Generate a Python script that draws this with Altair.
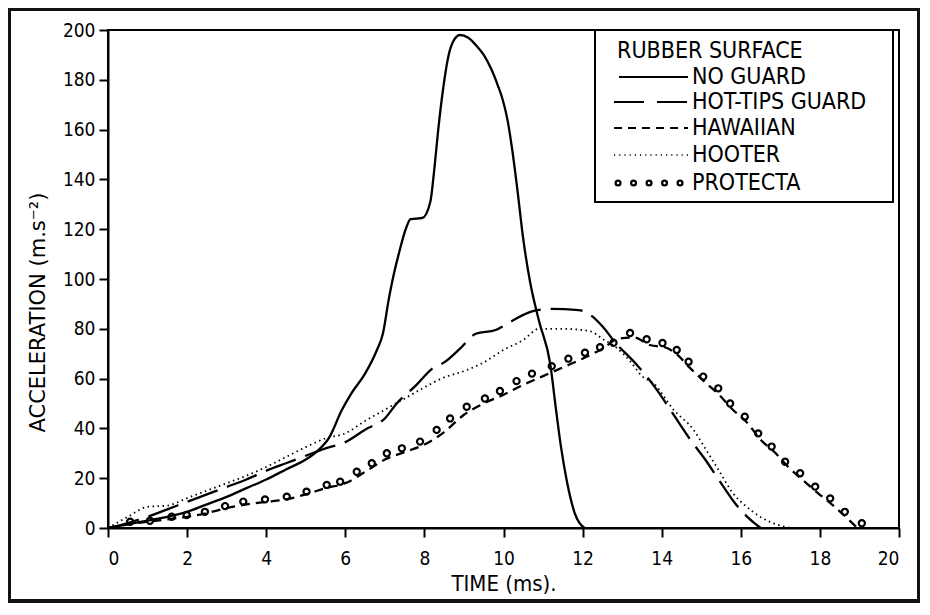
import altair as alt
import pandas as pd

FONT = "Liberation Sans Narrow, DejaVu Sans Condensed, Roboto, sans-serif"
WIDE_FONT = "DejaVu Sans, Liberation Sans, sans-serif"

# ---------------- data ----------------
series_names = ["NO GUARD", "HOT-TIPS GUARD", "HAWAIIAN", "HOOTER", "PROTECTA"]
legend_title = "RUBBER SURFACE"
x_ticks = [0, 2, 4, 6, 8, 10, 12, 14, 16, 18, 20]
y_ticks = [0, 20, 40, 60, 80, 100, 120, 140, 160, 180, 200]

no_guard_t = [0, 0.5, 1, 1.5, 2, 2.5, 3, 3.5, 4, 4.5, 5, 5.3, 5.6, 5.9, 6.15, 6.5, 6.8,
              6.95, 7.1, 7.2, 7.35, 7.55, 7.65, 7.95, 8.15, 8.25, 8.35, 8.47, 8.6, 8.75,
              8.9, 9.1, 9.3, 9.5, 9.7, 9.85, 9.98, 10.1, 10.22, 10.35, 10.5, 10.67, 10.9,
              11.18, 11.34, 11.45, 11.6, 11.8, 12.05]
no_guard_a = [0, 1.5, 3, 4.5, 6.5, 9.5, 12.5, 16, 19.5, 23.5, 27.5, 31, 36.5, 47, 54, 62,
              71.5, 78, 92, 100, 110, 121, 124, 124.5, 131, 144, 160, 176, 189, 196, 198,
              197, 194, 190, 184, 178, 172, 164, 152, 136, 116, 99, 83, 66, 46, 33, 19, 6, 0]

hot_tips_t = [0, 0.5, 1, 1.5, 2, 2.5, 3, 3.5, 4, 4.5, 5, 5.5, 6, 6.5, 7, 7.3, 7.8, 8.2,
              8.5, 8.9, 9.3, 9.8, 10.2, 10.7, 11.2, 11.9, 12.2, 12.5, 12.8, 13.4, 13.9,
              14.3, 14.7, 15.1, 15.5, 15.9, 16.2, 16.5]
hot_tips_a = [0, 2, 4.5, 7.5, 10.5, 13.5, 16.5, 19.5, 23, 26, 29, 32, 34.5, 39.5, 44, 50,
              57.5, 64, 66.5, 72, 78, 79.5, 83, 86.9, 88, 87.5, 85.5, 81, 75, 65, 55, 45.5,
              36, 27.5, 18, 9, 4, 0]

hawaiian_t = [0, 0.5, 1, 1.5, 2, 2.5, 3, 3.5, 4, 4.5, 5, 5.5, 6, 6.5, 7, 7.5, 8, 8.5, 9,
              9.5, 10, 10.5, 11, 11.5, 12, 12.5, 12.9, 13.3, 13.7, 14.1, 14.4, 14.7, 15.1,
              15.45, 15.8, 16.15, 16.5, 16.85, 17.2, 17.55, 17.95, 18.3, 18.65, 18.95]
hawaiian_a = [0, 1.5, 2.5, 3.5, 4.5, 6, 8, 9.5, 10.5, 11.5, 13.5, 16, 18, 22.5, 27.5, 30.5,
              33.5, 38.5, 45.5, 50, 53.5, 57.5, 61, 64.5, 68, 72, 76, 76.5, 73.5, 72.5, 69.5,
              64.5, 58.5, 53.5, 47.5, 42.5, 35.5, 30.5, 24.5, 19.5, 14, 9.5, 4.5, 0]

hooter_t = [0, 0.5, 1, 1.5, 2, 2.5, 3, 3.5, 4, 4.5, 5, 5.5, 6, 6.5, 7, 7.5, 8, 8.5, 9, 9.5,
            10, 10.5, 10.9, 11.5, 12.2, 12.5, 12.85, 13.2, 13.5, 13.8, 14.3, 14.8, 15.1,
            15.45, 15.8, 16.15, 16.6, 17.25]
hooter_a = [0, 4.5, 8.5, 9, 12, 15, 18, 21, 24.5, 28.5, 32.5, 36, 38, 43, 47.5, 52, 56.5,
            60.5, 63, 66.5, 71.5, 75.5, 80, 80, 79, 76, 72.5, 67, 61, 58, 47.5, 39.5, 32,
            23, 14, 8.5, 3.5, 0]

protecta_t = [0.56, 1.06, 1.61, 1.99, 2.45, 2.96, 3.42, 3.97, 4.52, 5.02, 5.53, 5.87, 6.29,
              6.67, 7.05, 7.43, 7.89, 8.31, 8.65, 9.07, 9.53, 9.91, 10.33, 10.72, 11.22,
              11.64, 12.06, 12.44, 12.78, 13.2, 13.62, 14.02, 14.38, 14.68, 15.05, 15.43,
              15.73, 16.1, 16.44, 16.78, 17.12, 17.5, 17.88, 18.26, 18.63, 19.06]
protecta_a = [2.5, 2.9, 4.5, 5.2, 6.5, 8.8, 10.6, 11.5, 12.6, 14.6, 17.3, 18.6, 22.6, 26,
              30, 32, 34.7, 39.4, 44, 48.7, 52, 55, 59, 62, 65, 68, 70.4, 72.6, 74.4, 78.3,
              75.8, 74.3, 71.5, 66.8, 60.8, 56.1, 50, 44.7, 38, 32.7, 26.6, 22, 16.6, 11.9,
              6.5, 1.9]

# ---------------- chart ----------------
W, H = 791, 498

x_scale = alt.Scale(domain=[0, 20], nice=False, zero=False)
y_scale = alt.Scale(domain=[0, 200], nice=False)
x_enc = alt.X("t:Q", scale=x_scale,
              axis=alt.Axis(values=x_ticks, format="d", title="TIME (ms).",
                            tickSize=9, labelPadding=12, titlePadding=5,
                            titleFontSize=22))
y_enc = alt.Y("a:Q", scale=y_scale,
              axis=alt.Axis(values=y_ticks, format="d", title="ACCELERATION (m.s⁻²)",
                            tickSize=9, labelPadding=4, titlePadding=14,
                            titleFont=WIDE_FONT, titleFontSize=21, titleY=282))


def df(t, a):
    return pd.DataFrame({"t": t, "a": a})


def line(t, a, dash, width=2.3):
    kw = dict(color="black", strokeWidth=width, interpolate="monotone", clip=True)
    if dash:
        kw["strokeDash"] = dash
    return alt.Chart(df(t, a)).mark_line(**kw).encode(x=x_enc, y=y_enc)


one = alt.Data(values=[{}])

frame = alt.Chart(one).mark_rect(fillOpacity=0, stroke="#111", strokeWidth=4, clip=False).encode(
    x=alt.value(-99), x2=alt.value(811), y=alt.value(-21), y2=alt.value(571))

legend_box = alt.Chart(one).mark_rect(fill="white", stroke="black", strokeWidth=2, clip=False).encode(
    x=alt.value(487), x2=alt.value(785), y=alt.value(0), y2=alt.value(172))

ng = line(no_guard_t, no_guard_a, None)
ht = line(hot_tips_t, hot_tips_a, [32, 10])
hw = line(hawaiian_t, hawaiian_a, [9, 6])
ho = line(hooter_t, hooter_a, [1.5, 3.5], 1.8)
pr = alt.Chart(df(protecta_t, protecta_a)).mark_point(
    shape="circle", filled=False, color="black", size=38, strokeWidth=2.2, opacity=1
).encode(x=x_enc, y=y_enc)

# legend contents
leg_layers = []
title_t = alt.Chart(one).mark_text(align="left", baseline="middle", font=FONT, fontSize=23,
                                   color="black").encode(
    x=alt.value(509), y=alt.value(21), text=alt.value(legend_title))
leg_layers.append(title_t)

row_y = [47, 72, 98, 125, 153]
dashes = [None, [30, 13], [8, 6], [1.2, 4], None]
for name, yy, dsh in zip(series_names, row_y, dashes):
    if name == "PROTECTA":
        dots = alt.Chart(one).mark_rule(color="black", strokeWidth=7, strokeCap="round",
                                        strokeDash=[0.1, 15.4]).encode(
            x=alt.value(510), x2=alt.value(573), y=alt.value(yy))
        holes = alt.Chart(one).mark_rule(color="white", strokeWidth=2.4, strokeCap="round",
                                         strokeDash=[0.1, 15.4]).encode(
            x=alt.value(510), x2=alt.value(573), y=alt.value(yy))
        leg_layers += [dots, holes]
    else:
        kw = dict(color="black", strokeWidth=2.2 if name != "HOOTER" else 1.6)
        if dsh:
            kw["strokeDash"] = dsh
        x_start = 506 if name != "NO GUARD" else 511
        leg_layers.append(alt.Chart(one).mark_rule(**kw).encode(
            x=alt.value(x_start), x2=alt.value(580), y=alt.value(yy)))
    leg_layers.append(alt.Chart(one).mark_text(align="left", baseline="middle", font=FONT,
                                               fontSize=23, color="black").encode(
        x=alt.value(584), y=alt.value(yy), text=alt.value(name)))

chart = alt.layer(frame, ng, ht, hw, ho, pr, legend_box, *leg_layers).properties(
    width=W, height=H, autosize="none",
    padding={"left": 100, "top": 22, "right": 21, "bottom": 75},
    background="white",
).configure_view(stroke="black", strokeWidth=2).configure_axis(
    grid=False, domainColor="black", domainWidth=2, tickColor="black", tickWidth=2,
    labelColor="black", titleColor="black", labelFont=FONT, titleFont=FONT,
    labelFontSize=19, titleFontSize=19, titleFontWeight="normal",
)

chart.save("out.html", embed_options={"renderer": "svg", "actions": False})
